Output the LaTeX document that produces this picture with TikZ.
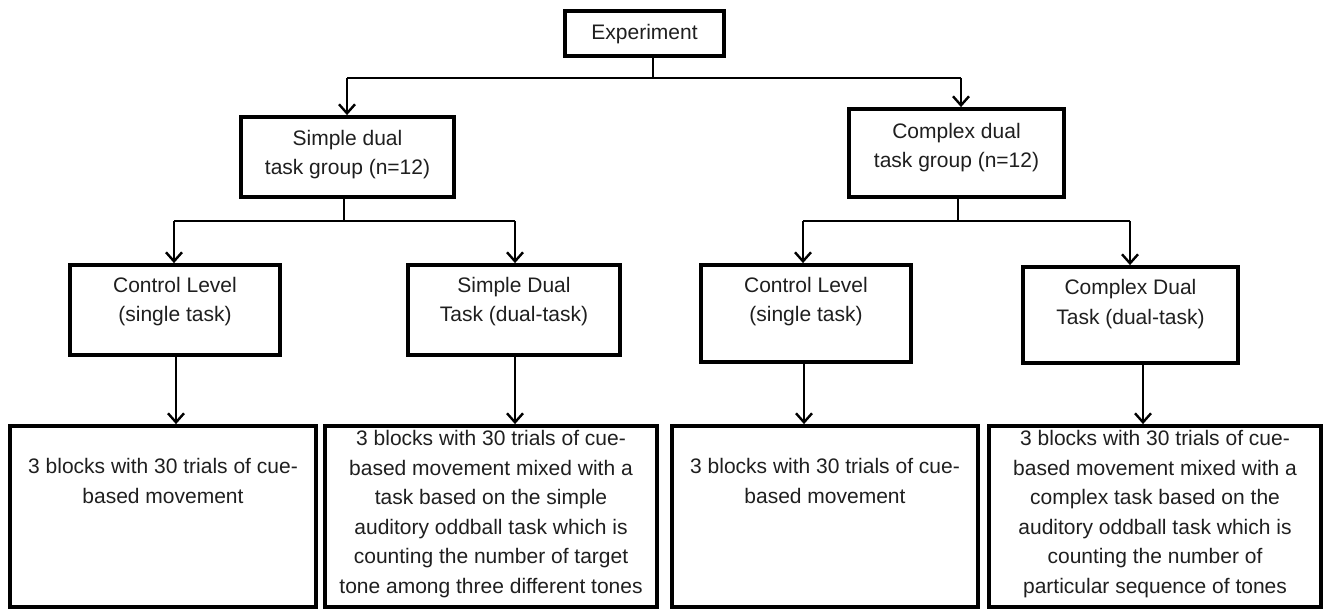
\documentclass[tikz,border=0pt]{standalone}
\usepackage{fontspec}
\setmainfont{Liberation Sans}
\usetikzlibrary{arrows.meta}
\newcommand\tx[2]{\raisebox{\dimexpr#1-5.25pt\relax}[0pt][0pt]{\begin{tabular}{@{}c@{}}#2\end{tabular}}}
\tikzset{
  box/.style={draw=black, line width=3.8pt, rectangle, inner sep=0pt, fill=white,
    font=\fontsize{21}{29.5}\selectfont, text=black!88},
  conn/.style={draw=black, line width=2.4pt},
  arr/.style={conn, -{Straight Barb[length=9pt,width=16pt]}},
}
\begin{document}
\begin{tikzpicture}[x=1pt,y=-1pt]
\useasboundingbox (0,0) rectangle (1325,609);
\node[box, minimum width=159pt, minimum height=45pt] (exp) at (644.5,33.5) {\tx{0pt}{Experiment}};
\node[box, minimum width=213pt, minimum height=80pt] (simple) at (347.5,157) {\tx{3pt}{Simple dual\\task group (n=12)}};
\node[box, minimum width=215pt, minimum height=88pt] (complex) at (956.5,153) {\tx{6pt}{Complex dual\\task group (n=12)}};
\node[box, minimum width=210pt, minimum height=90pt] (ctrl1) at (175,310) {\tx{9pt}{Control Level\\(single task)}};
\node[box, minimum width=212pt, minimum height=90pt] (sdual) at (514,310) {\tx{9pt}{Simple Dual\\Task (dual-task)}};
\node[box, minimum width=210pt, minimum height=97pt] (ctrl2) at (806,313.5) {\tx{12.5pt}{Control Level\\(single task)}};
\node[box, minimum width=215pt, minimum height=96pt] (cdual) at (1130.5,315) {\tx{11.5pt}{Complex Dual\\Task (dual-task)}};
\node[box, minimum width=306pt, minimum height=181pt] (b1) at (163,516.5) {\tx{34pt}{3 blocks with 30 trials of cue-\\based movement}};
\node[box, minimum width=332pt, minimum height=181pt] (b2) at (491,516.5) {\tx{3pt}{3 blocks with 30 trials of cue-\\based movement mixed with a\\task based on the simple\\auditory oddball task which is\\counting the number of target\\tone among three different tones}};
\node[box, minimum width=306pt, minimum height=181pt] (b3) at (825,516.5) {\tx{34pt}{3 blocks with 30 trials of cue-\\based movement}};
\node[box, minimum width=332pt, minimum height=181pt] (b4) at (1155,516.5) {\tx{3pt}{3 blocks with 30 trials of cue-\\based movement mixed with a\\complex task based on the\\auditory oddball task which is\\counting the number of\\particular sequence of tones}};
% junctions
\coordinate (j0) at (653,78);
\coordinate (j0l) at (347,78);
\coordinate (j0r) at (961,78);
\coordinate (j1) at (344,221);
\coordinate (j1l) at (174,221);
\coordinate (j1r) at (515,221);
\coordinate (j2) at (958,221);
\coordinate (j2l) at (803,221);
\coordinate (j2r) at (1130,221);
\coordinate (x1) at (176,0);
\coordinate (x2) at (515,0);
\coordinate (x3) at (804,0);
\coordinate (x4) at (1143,0);
% level 0
\draw[conn] (exp.south -| j0) -- (j0);
\draw[conn] (j0l) -- (j0r);
\draw[arr] (j0l) -- (simple.north -| j0l);
\draw[arr] (j0r) -- (complex.north -| j0r);
% level 1
\draw[conn] (simple.south -| j1) -- (j1);
\draw[conn] (j1l) -- (j1r);
\draw[arr] (j1l) -- (ctrl1.north -| j1l);
\draw[arr] (j1r) -- (sdual.north -| j1r);
\draw[conn] (complex.south -| j2) -- (j2);
\draw[conn] (j2l) -- (j2r);
\draw[arr] (j2l) -- (ctrl2.north -| j2l);
\draw[arr] (j2r) -- (cdual.north -| j2r);
% level 2
\draw[arr] (ctrl1.south -| x1) -- (b1.north -| x1);
\draw[arr] (sdual.south -| x2) -- (b2.north -| x2);
\draw[arr] (ctrl2.south -| x3) -- (b3.north -| x3);
\draw[arr] (cdual.south -| x4) -- (b4.north -| x4);
\end{tikzpicture}
\end{document}
